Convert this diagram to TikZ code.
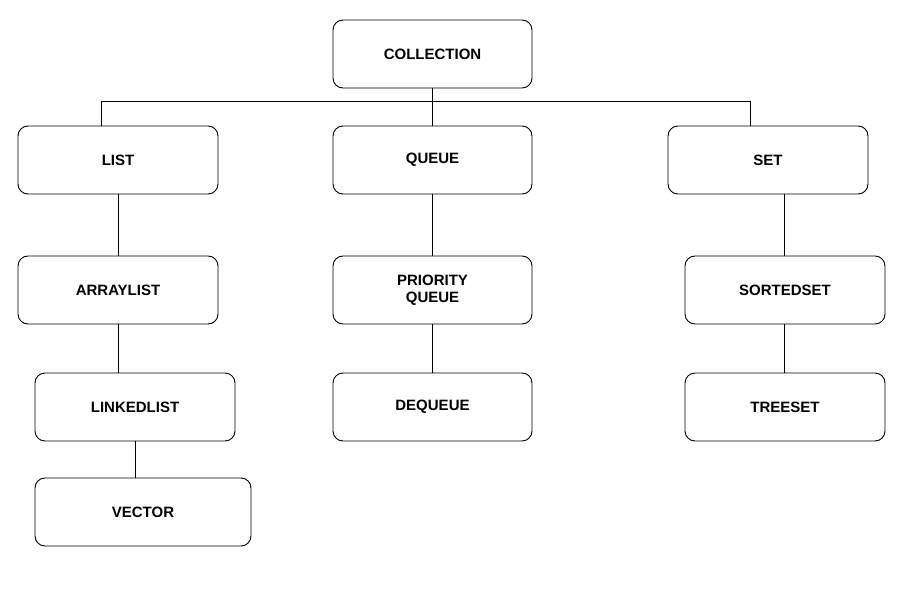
\documentclass[tikz,border=0pt]{standalone}
\usepackage{fontspec}
\setmainfont{Liberation Sans}
\begin{document}
\begin{tikzpicture}[x=1pt,y=-1pt,
  bx/.style={draw,rounded corners=10pt,line width=0.9pt,font=\fontsize{15}{17}\selectfont\bfseries,align=center},
  ln/.style={line width=0.9pt}]
\useasboundingbox (0,0) rectangle (903,591);
\newcommand{\bxn}[6]{\node[bx,minimum width=#4-#2,minimum height=#5-#3] (#1) at ({(#2+#4)/2},{(#3+#5)/2}) {#6};}
\bxn{col}{333}{20}{532}{88}{COLLECTION}
\bxn{list}{18}{126}{218}{194}{LIST}
\bxn{queue}{333}{126}{532}{194}{QUEUE}
\bxn{set}{668}{126}{868}{194}{SET}
\bxn{al}{18}{256}{218}{324}{ARRAYLIST}
\bxn{pq}{333}{256}{532}{324}{PRIORITY\\QUEUE}
\bxn{ss}{685}{256}{885}{324}{SORTEDSET}
\bxn{ll}{35}{373}{235}{441}{LINKEDLIST}
\bxn{dq}{333}{373}{532}{441}{DEQUEUE}
\bxn{ts}{685}{373}{885}{441}{TREESET}
\bxn{vec}{35}{478}{251}{546}{VECTOR}
\coordinate (hl) at (101,101);
\coordinate (hr) at (750,101);
\draw[ln] (hl) -- (hr);
\draw[ln] (col.south) -- (queue.north);
\draw[ln] (hl) -- (hl|-list.north);
\draw[ln] (hr) -- (hr|-set.north);
\draw[ln] (118,194) coordinate (a1) -- (a1|-al.north);
\draw[ln] (118,324) coordinate (a2) -- (a2|-ll.north);
\draw[ln] (135,441) coordinate (a3) -- (a3|-vec.north);
\draw[ln] (queue.south) -- (pq.north);
\draw[ln] (pq.south) -- (dq.north);
\draw[ln] (784,194) coordinate (a4) -- (a4|-ss.north);
\draw[ln] (ss.south-|a4) -- (a4|-ts.north);
\end{tikzpicture}
\end{document}
